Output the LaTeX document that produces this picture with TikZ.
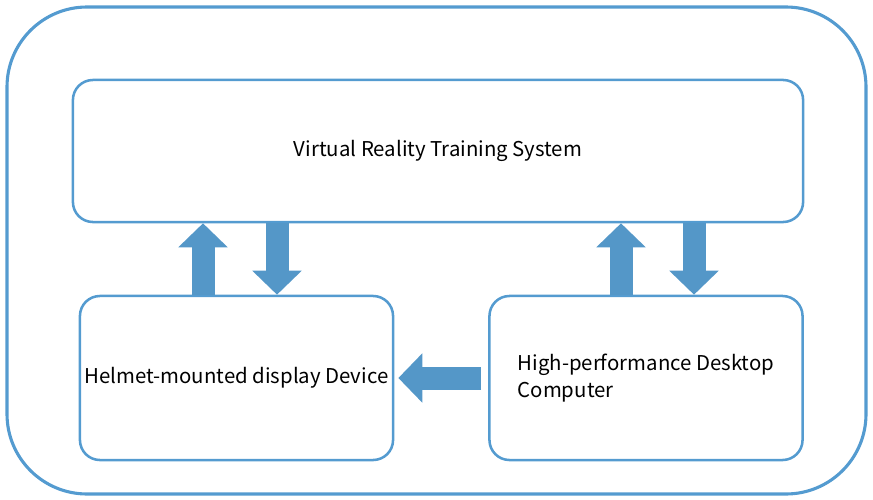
\documentclass[tikz,border=0pt]{standalone}
\usepackage{fontspec}
\newfontfamily\cjk{Noto Sans CJK SC}
\usetikzlibrary{arrows.meta,positioning,calc}
\definecolor{frameblue}{RGB}{84,155,208}
\definecolor{arrowblue}{RGB}{84,151,200}

\begin{document}
\begin{tikzpicture}[x=0.025cm, y=-0.025cm,
    box/.style={rectangle, draw=frameblue, line width=1.8pt, rounded corners=0.5cm,
        font=\cjk\fontsize{14.5}{19}\selectfont, align=center},
    wide/.style={box, minimum width=18.25cm, minimum height=3.55cm},
    unit/.style={box, minimum width=7.825cm, minimum height=4.1cm},
    blockarr/.style={-{Triangle[length=0.6cm, width=1.2cm]}, line width=0.575cm, arrowblue}
]
    \useasboundingbox (0,0) rectangle (873,499);
    \draw[frameblue, line width=2.2pt, rounded corners=2cm] (7,7) rectangle (866,494);

    \node[wide] (vrts) at (438,151) {Virtual Reality Training System};
    \node[unit] (hmd) at (236.5,378) {Helmet-mounted display Device};
    \node[unit, align=left] (hpc) at (646,378) {High-performance Desktop\\Computer};

    % arrow columns
    \coordinate (upL) at (203,0);
    \coordinate (dnL) at (277,0);
    \coordinate (upR) at (621,0);
    \coordinate (dnR) at (694,0);

    \draw[blockarr] (hmd.north -| upL) -- (vrts.south -| upL);
    \draw[blockarr] (vrts.south -| dnL) -- (hmd.north -| dnL);
    \draw[blockarr] (hpc.north -| upR) -- (vrts.south -| upR);
    \draw[blockarr] (vrts.south -| dnR) -- (hpc.north -| dnR);
    \draw[blockarr, shorten <=0.175cm, shorten >=0.1cm] (hpc.west) -- (hmd.east);
\end{tikzpicture}
\end{document}
